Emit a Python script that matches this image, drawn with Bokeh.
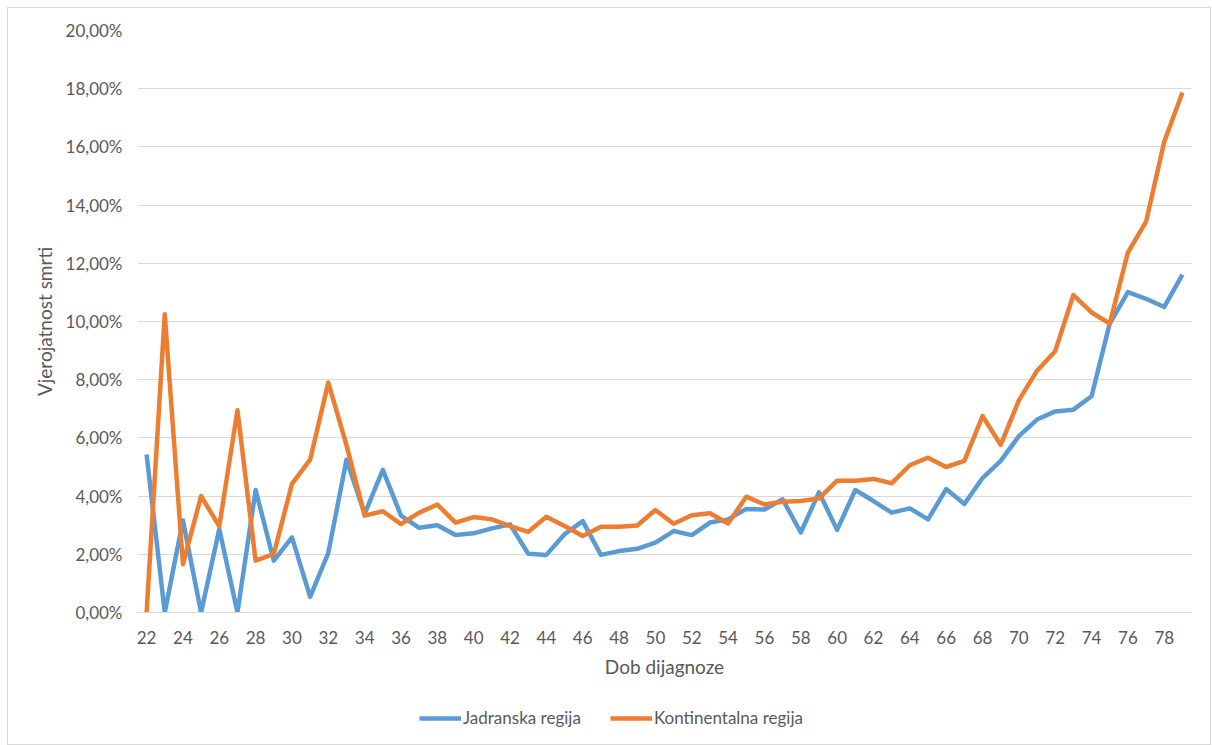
from bokeh.plotting import figure
from bokeh.layouts import column
from bokeh.models import (ColumnDataSource, FixedTicker, Range1d, Legend, LegendItem,
                          CustomJSTickFormatter)
from bokeh.embed import file_html
from bokeh.resources import INLINE

ages = list(range(22, 80))
jadranska = [5.43, 0.0, 3.16, 0.0, 2.87, 0.0, 4.21, 1.78, 2.58, 0.54,
             2.05, 5.25, 3.39, 4.90, 3.33, 2.91, 3.00, 2.66, 2.72, 2.89,
             3.03, 2.02, 1.98, 2.69, 3.14, 1.98, 2.11, 2.19, 2.40, 2.80,
             2.66, 3.09, 3.20, 3.56, 3.54, 3.89, 2.75, 4.13, 2.84, 4.21,
             3.83, 3.43, 3.58, 3.20, 4.24, 3.73, 4.62, 5.21, 6.06, 6.63,
             6.91, 6.97, 7.43, 9.93, 11.01, 10.78, 10.50, 11.61]
kontinentalna = [0.0, 10.25, 1.66, 4.00, 2.96, 6.95, 1.78, 2.01, 4.42, 5.25,
                 7.90, 5.75, 3.33, 3.48, 3.04, 3.43, 3.71, 3.09, 3.28, 3.20,
                 2.97, 2.77, 3.29, 2.97, 2.63, 2.95, 2.95, 2.99, 3.52, 3.05,
                 3.34, 3.41, 3.06, 3.98, 3.71, 3.81, 3.83, 3.92, 4.53, 4.53,
                 4.59, 4.44, 5.06, 5.32, 5.00, 5.21, 6.75, 5.76, 7.29, 8.31,
                 8.98, 10.91, 10.31, 9.93, 12.37, 13.43, 16.18, 17.87]
y_ticks = [0, 2, 4, 6, 8, 10, 12, 14, 16, 18, 20]
x_ticks = list(range(22, 80, 2))
series_names = ["Jadranska regija", "Kontinentalna regija"]
colors = ["#5B9BD5", "#ED7D31"]

FONT = "Lato"
TXT = "#595959"
GRID = "#D9D9D9"
LW = 4.5

# ---- main chart ----
p = figure(width=1202, height=679, output_backend="svg", toolbar_location=None,
           x_range=Range1d(21.5, 79.5), y_range=Range1d(0, 20),
           min_border_left=129, min_border_top=22, min_border_right=19,
           min_border_bottom=75)
p.outline_line_color = None
p.background_fill_color = "white"
p.border_fill_color = "white"

src = ColumnDataSource(dict(age=ages, j=jadranska, k=kontinentalna))
p.line("age", "j", source=src, color=colors[0], line_width=LW, line_join="round")
p.line("age", "k", source=src, color=colors[1], line_width=LW, line_join="round")

p.xaxis.ticker = FixedTicker(ticks=x_ticks)
p.yaxis.ticker = FixedTicker(ticks=y_ticks)
p.yaxis.formatter = CustomJSTickFormatter(code="return tick.toFixed(2).replace('.', ',') + '%';")
for ax in (p.xaxis, p.yaxis):
    ax.major_tick_line_color = None
    ax.minor_tick_line_color = None
    ax.major_tick_out = 0
    ax.major_tick_in = 0
    ax.major_label_text_font = FONT
    ax.major_label_text_font_size = "17px"
    ax.major_label_text_color = TXT
    ax.axis_label_text_font = FONT
    ax.axis_label_text_font_size = "19px"
    ax.axis_label_text_color = TXT
    ax.axis_label_text_font_style = "normal"
p.yaxis.axis_line_color = None
p.xaxis.axis_line_color = GRID
p.xaxis.axis_line_width = 1
p.yaxis.major_label_standoff = 15
p.xaxis.major_label_standoff = 18
p.yaxis.axis_label_standoff = 7
p.xaxis.axis_label_standoff = 8
p.xaxis.axis_label = "Dob dijagnoze"
p.yaxis.axis_label = "Vjerojatnost smrti"

p.xgrid.grid_line_color = None
p.ygrid.grid_line_color = GRID
p.ygrid.grid_line_width = 1

# ---- legend strip (same series, ranges chosen so only the legend shows) ----
lg = figure(width=1202, height=57, output_backend="svg", toolbar_location=None,
            x_range=Range1d(0, 1), y_range=Range1d(0, 1),
            x_axis_type=None, y_axis_type=None, min_border=0)
lg.outline_line_color = None
lg.xgrid.visible = False
lg.ygrid.visible = False
k1 = lg.line("age", "j", source=src, color=colors[0], line_width=LW)
k2 = lg.line("age", "k", source=src, color=colors[1], line_width=LW)
legend = Legend(items=[LegendItem(label=series_names[0], renderers=[k1]),
                       LegendItem(label=series_names[1], renderers=[k2])],
                orientation="horizontal", location=(282, 16),
                border_line_color=None, background_fill_alpha=0,
                padding=0, margin=0, spacing=29, label_standoff=2,
                glyph_width=42, glyph_height=20,
                label_text_font=FONT, label_text_font_size="17px",
                label_text_color=TXT)
lg.add_layout(legend, "center")

layout = column(p, lg, spacing=0)
layout.margin = (7, 0, 0, 7)
layout.styles = {"border": "1px solid #D9D9D9", "background-color": "white"}

open("out.html", "w").write(file_html(layout, INLINE))
